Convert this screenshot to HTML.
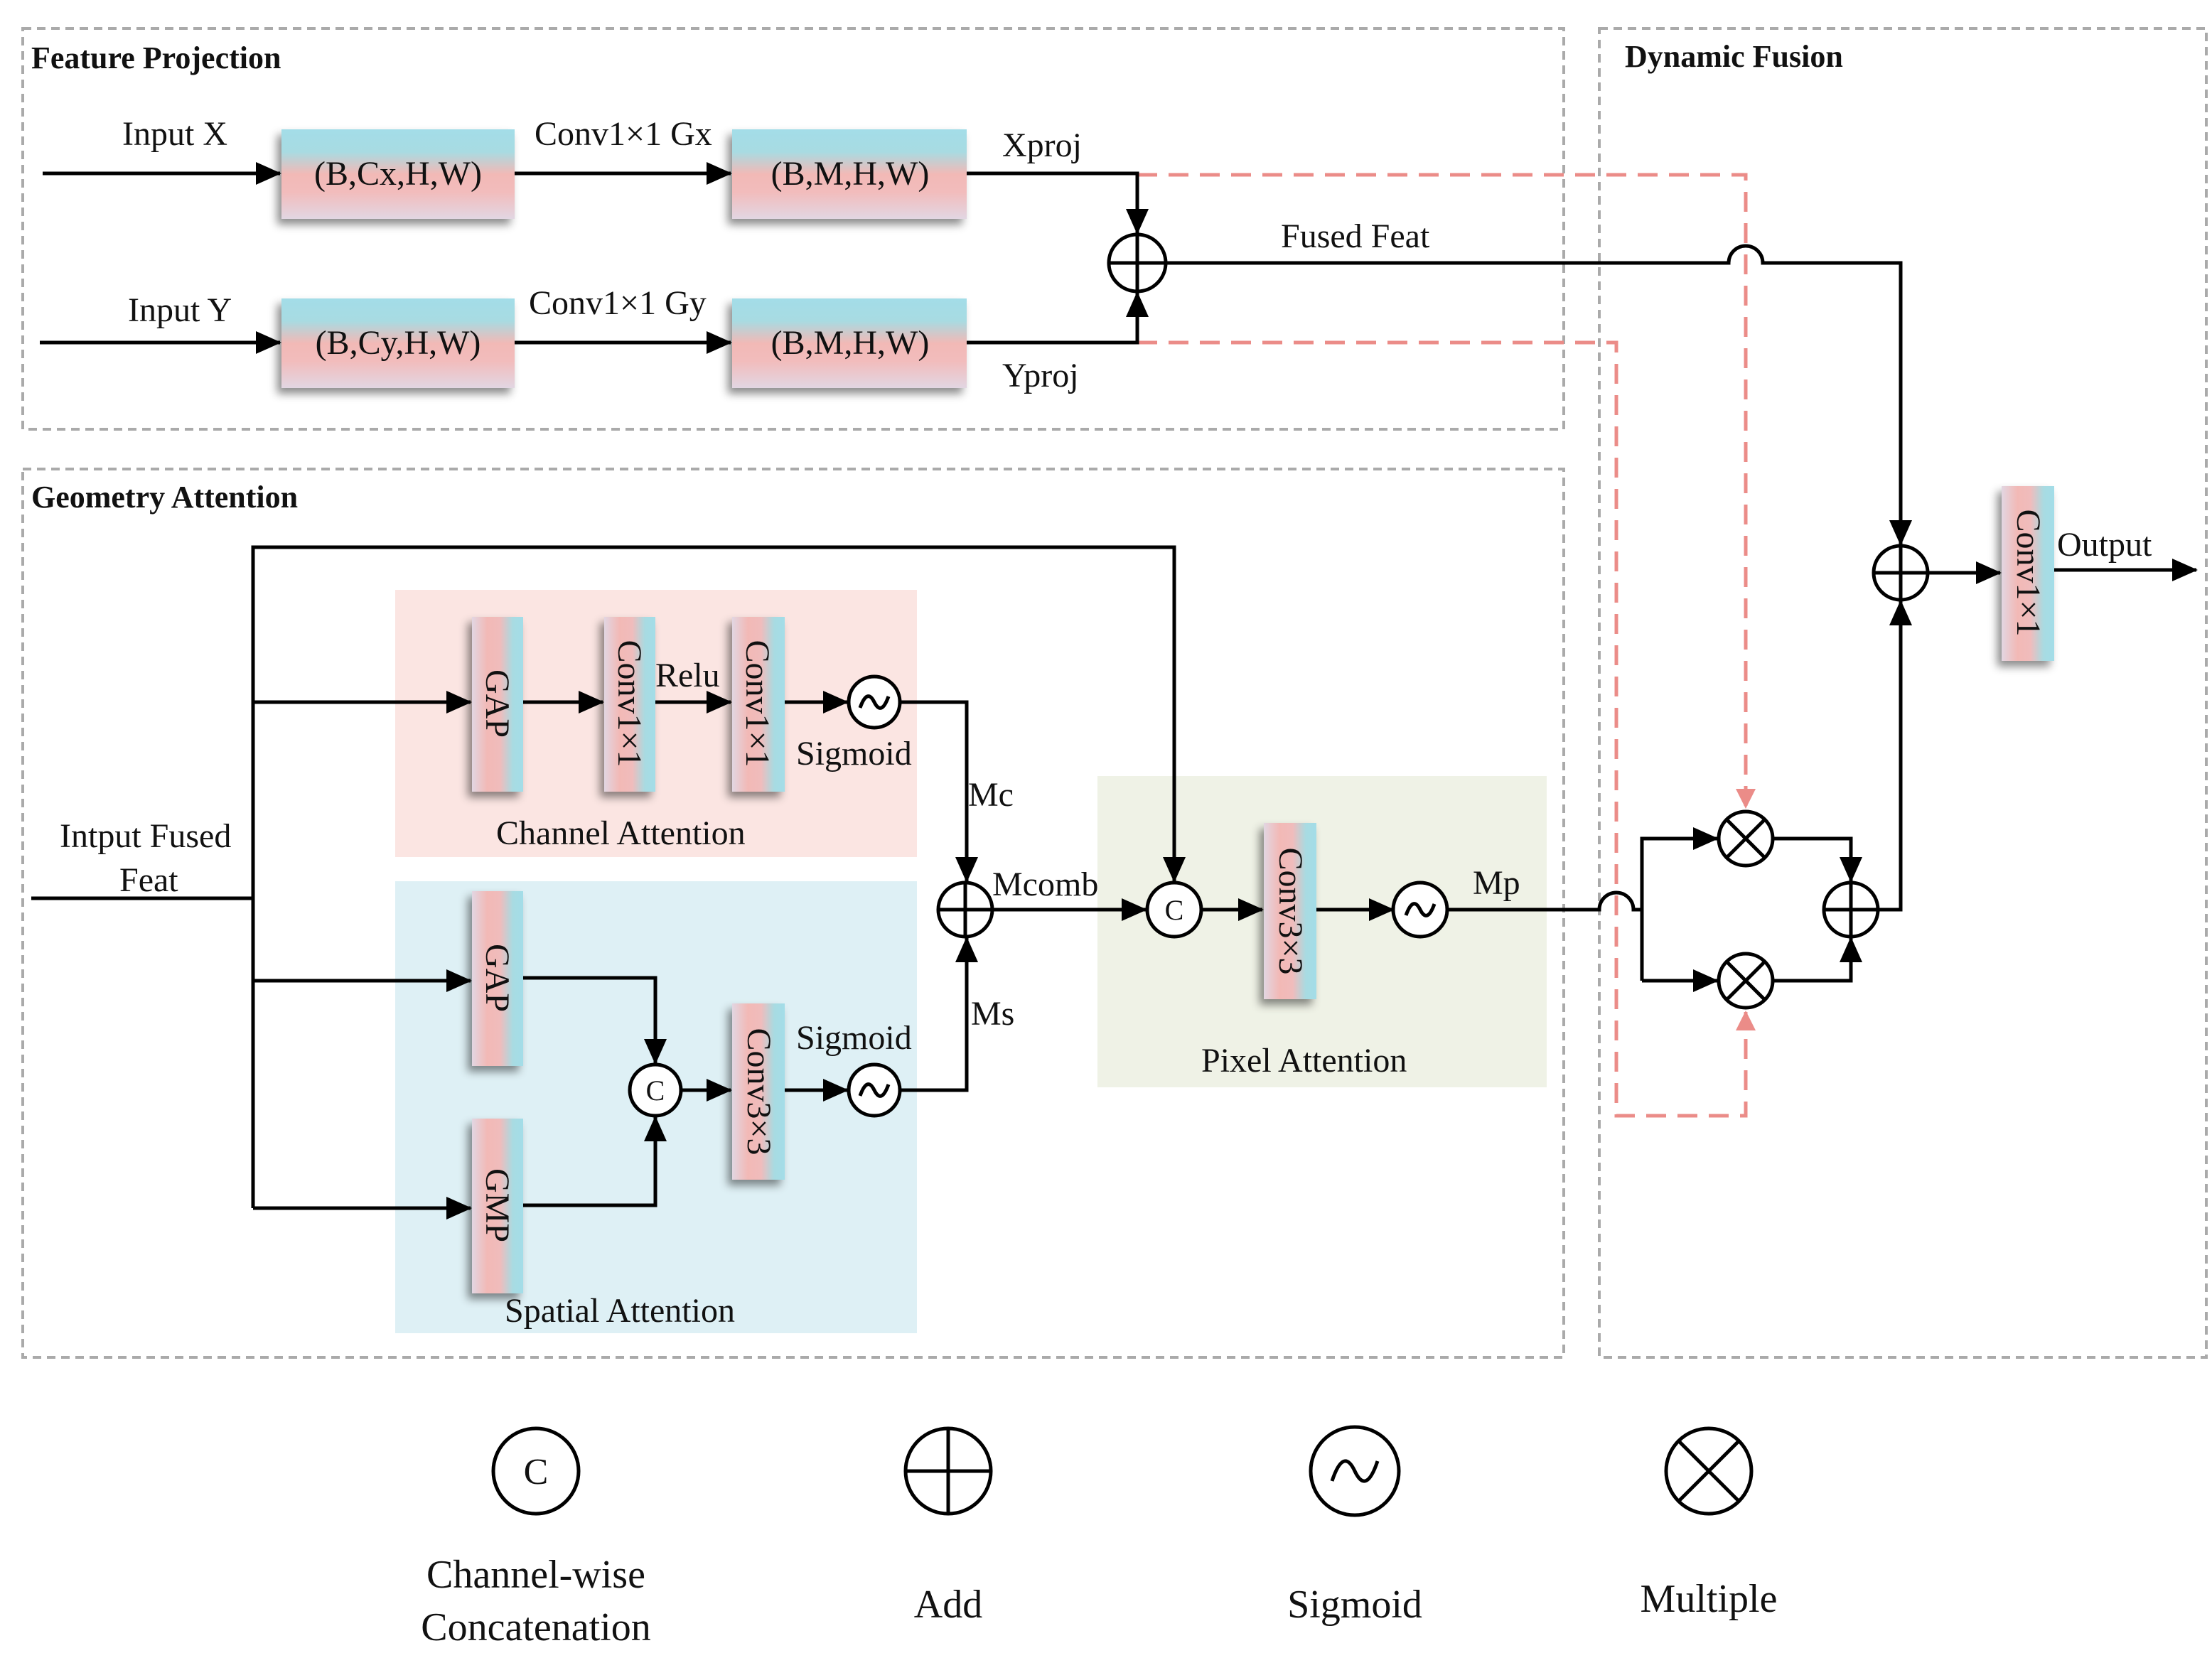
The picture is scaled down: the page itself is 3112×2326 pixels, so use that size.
<!DOCTYPE html>
<html><head><meta charset="utf-8"><style>html,body{margin:0;padding:0;background:#fff}svg{display:block}</style></head><body>
<svg width="3112" height="2326" viewBox="0 0 1556 1163" xmlns="http://www.w3.org/2000/svg" font-family="Liberation Serif, serif" fill="#111">
<defs>
<linearGradient id="gh" x1="0" y1="0" x2="0" y2="1"><stop offset="0" stop-color="#a3dde8"/><stop offset="0.25" stop-color="#a8dbe2"/><stop offset="0.5" stop-color="#f2b9b6"/><stop offset="0.7" stop-color="#f2bcbc"/><stop offset="1" stop-color="#e2d6e2"/></linearGradient>
<linearGradient id="gv" x1="0" y1="0" x2="1" y2="0"><stop offset="0" stop-color="#e2d6e2"/><stop offset="0.3" stop-color="#f2b9b6"/><stop offset="0.55" stop-color="#f0bcbc"/><stop offset="0.8" stop-color="#a8dbe2"/><stop offset="1" stop-color="#a3dde8"/></linearGradient>
<filter id="sh" x="-30%" y="-30%" width="160%" height="160%"><feDropShadow dx="-3" dy="4" stdDeviation="3" flood-color="#000" flood-opacity="0.45"/></filter>
<marker id="a" markerWidth="18" markerHeight="16" refX="17" refY="8" orient="auto" markerUnits="userSpaceOnUse" viewBox="0 0 18 16"><path d="M0,0 L18,8 L0,16z" fill="#000"/></marker>
<marker id="ar" markerWidth="14" markerHeight="14" refX="13" refY="7" orient="auto" markerUnits="userSpaceOnUse" viewBox="0 0 14 14"><path d="M0,0 L14,7 L0,14z" fill="#eb8c88"/></marker>
</defs>
<g fill="none" stroke="#aaa" stroke-width="2" stroke-dasharray="6,4">
<rect x="16" y="20" width="1084" height="282"/>
<rect x="1125" y="20" width="427" height="935"/>
<rect x="16" y="330" width="1084" height="625"/>
</g>
<rect x="278" y="415" width="367" height="188" fill="#fbe5e2"/>
<rect x="278" y="620" width="367" height="318" fill="#def0f5"/>
<rect x="772" y="546" width="316" height="219" fill="#eff2e6"/>
<g font-weight="bold" font-size="22"><text x="22" y="48">Feature Projection</text><text x="1143" y="47">Dynamic Fusion</text><text x="22" y="357">Geometry Attention</text></g>
<g filter="url(#sh)">
<rect x="198" y="91" width="164" height="63" fill="url(#gh)"/>
<rect x="515" y="91" width="165" height="63" fill="url(#gh)"/>
<rect x="198" y="210" width="164" height="63" fill="url(#gh)"/>
<rect x="515" y="210" width="165" height="63" fill="url(#gh)"/>
<rect x="332" y="434" width="36" height="123" fill="url(#gv)"/>
<rect x="425" y="434" width="36" height="123" fill="url(#gv)"/>
<rect x="515" y="434" width="37" height="123" fill="url(#gv)"/>
<rect x="332" y="627" width="36" height="123" fill="url(#gv)"/>
<rect x="332" y="787" width="36" height="123" fill="url(#gv)"/>
<rect x="515" y="706" width="37" height="124" fill="url(#gv)"/>
<rect x="889" y="579" width="37" height="124" fill="url(#gv)"/>
<rect x="1408" y="342" width="37" height="123" fill="url(#gv)"/>
</g>
<g font-size="24" text-anchor="middle">
<text x="280" y="130">(B,Cx,H,W)</text><text x="598" y="130">(B,M,H,W)</text>
<text x="280" y="249">(B,Cy,H,W)</text><text x="598" y="249">(B,M,H,W)</text>
</g>
<g font-size="24" text-anchor="middle">
<text transform="translate(342,495) rotate(90)">GAP</text>
<text transform="translate(435,495) rotate(90)">Conv1×1</text>
<text transform="translate(525,495) rotate(90)">Conv1×1</text>
<text transform="translate(342,688) rotate(90)">GAP</text>
<text transform="translate(342,848) rotate(90)">GMP</text>
<text transform="translate(526,768) rotate(90)">Conv3×3</text>
<text transform="translate(900,641) rotate(90)">Conv3×3</text>
<text transform="translate(1419,403) rotate(90)">Conv1×1</text>
</g>
<g font-size="24">
<text x="86" y="102">Input X</text><text x="376" y="102">Conv1×1 Gx</text><text x="705" y="110">Xproj</text>
<text x="90" y="226">Input Y</text><text x="372" y="221">Conv1×1 Gy</text><text x="705" y="272">Yproj</text>
<text x="901" y="174">Fused Feat</text><text x="1447" y="391">Output</text>
<text x="42" y="596">Intput Fused</text><text x="84" y="627">Feat</text>
<text x="461" y="483">Relu</text><text x="560" y="538">Sigmoid</text><text x="349" y="594">Channel Attention</text>
<text x="681" y="567">Mc</text><text x="698" y="630">Mcomb</text><text x="683" y="721">Ms</text>
<text x="560" y="738">Sigmoid</text><text x="355" y="930">Spatial Attention</text>
<text x="1036" y="629">Mp</text><text x="845" y="754">Pixel Attention</text>
</g>
<g font-size="28" text-anchor="middle">
<text x="377" y="1117">Channel-wise</text><text x="377" y="1154">Concatenation</text>
<text x="667" y="1138">Add</text><text x="953" y="1138">Sigmoid</text><text x="1202" y="1134">Multiple</text>
</g>
<g fill="none" stroke="#eb8c88" stroke-width="2.5" stroke-dasharray="14,8">
<path d="M800,123 H1228 V568" marker-end="url(#ar)"/>
<path d="M800,241 H1137 V785 H1228 V712" marker-end="url(#ar)"/>
</g>
<g fill="none" stroke="#000" stroke-width="2.5">
<path d="M30,122 H197" marker-end="url(#a)"/>
<path d="M362,122 H514" marker-end="url(#a)"/>
<path d="M680,122 H800 V164" marker-end="url(#a)"/>
<path d="M28,241 H197" marker-end="url(#a)"/>
<path d="M362,241 H514" marker-end="url(#a)"/>
<path d="M680,241 H800 V206" marker-end="url(#a)"/>
<path d="M820,185 H1216 A12,12 0 0 1 1240,185 H1337 V383" marker-end="url(#a)"/>
<path d="M1356,403 H1407" marker-end="url(#a)"/>
<path d="M1445,401 H1545" marker-end="url(#a)"/>
<path d="M1321,640 H1337 V423" marker-end="url(#a)"/>
<path d="M1018,640 H1125 A12,12 0 0 1 1149,640 H1155 M1155,690 V590 H1208" marker-end="url(#a)"/>
<path d="M1155,690 H1208" marker-end="url(#a)"/>
<path d="M1247,590 H1302 V620" marker-end="url(#a)"/>
<path d="M1247,690 H1302 V660" marker-end="url(#a)"/>
<path d="M22,632 H178 M178,850 V385 H826 V620" marker-end="url(#a)"/>
<path d="M178,494 H331" marker-end="url(#a)"/>
<path d="M368,494 H424" marker-end="url(#a)"/>
<path d="M461,494 H514" marker-end="url(#a)"/>
<path d="M552,494 H596" marker-end="url(#a)"/>
<path d="M633,494 H680 V620" marker-end="url(#a)"/>
<path d="M178,690 H331" marker-end="url(#a)"/>
<path d="M178,850 H331" marker-end="url(#a)"/>
<path d="M368,688 H461 V748" marker-end="url(#a)"/>
<path d="M368,848 H461 V786" marker-end="url(#a)"/>
<path d="M480,767 H514" marker-end="url(#a)"/>
<path d="M552,767 H596" marker-end="url(#a)"/>
<path d="M633,767 H680 V660" marker-end="url(#a)"/>
<path d="M698,640 H806" marker-end="url(#a)"/>
<path d="M846,640 H888" marker-end="url(#a)"/>
<path d="M926,640 H980" marker-end="url(#a)"/>
</g>
<g fill="#fff" stroke="#000" stroke-width="2.5">
<circle cx="800" cy="185" r="20"/><path d="M780,185 H820 M800,165 V205"/>
<circle cx="1337" cy="403" r="19"/><path d="M1318,403 H1356 M1337,384 V422"/>
<circle cx="1302" cy="640" r="19"/><path d="M1283,640 H1321 M1302,621 V659"/>
<circle cx="679" cy="640" r="19"/><path d="M660,640 H698 M679,621 V659"/>
<circle cx="1228" cy="590" r="19"/><path d="M1215,577 L1241,603 M1241,577 L1215,603"/>
<circle cx="1228" cy="690" r="19"/><path d="M1215,677 L1241,703 M1241,677 L1215,703"/>
<circle cx="615" cy="494" r="18"/><path d="M605,498 Q610,484 615,494 Q620,504 625,490" fill="none"/>
<circle cx="615" cy="767" r="18"/><path d="M605,771 Q610,757 615,767 Q620,777 625,763" fill="none"/>
<circle cx="999" cy="640" r="19"/><path d="M989,644 Q994,630 999,640 Q1004,650 1009,636" fill="none"/>
<circle cx="826" cy="640" r="19"/><circle cx="461" cy="767" r="18"/>
<circle cx="377" cy="1035" r="30"/>
<circle cx="667" cy="1035" r="30"/><path d="M637,1035 H697 M667,1005 V1065"/>
<circle cx="953" cy="1035" r="31"/><path d="M937,1042 Q945,1018 953,1035 Q961,1052 969,1028" fill="none"/>
<circle cx="1202" cy="1035" r="30"/><path d="M1181,1014 L1223,1056 M1223,1014 L1181,1056"/>
</g>
<g font-size="20" text-anchor="middle"><text x="826" y="647">C</text><text x="461" y="774">C</text><text x="377" y="1044" font-size="26">C</text></g>
</svg>
</body></html>
